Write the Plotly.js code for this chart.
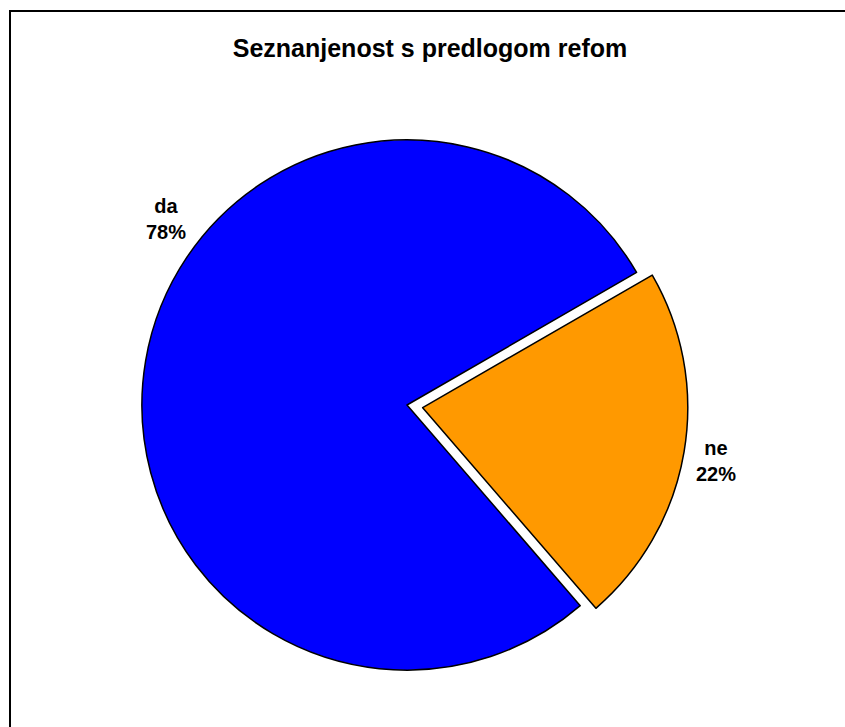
<!DOCTYPE html>
<html>
<head>
<meta charset="utf-8">
<script src="https://cdn.plot.ly/plotly-3.0.1.min.js"></script>
<style>
html, body { margin: 0; padding: 0; background: #ffffff; }
#chart { width: 845px; height: 727px; }
</style>
</head>
<body>
<div id="chart"></div>
<script>
const chartTitle = "Seznanjenost s predlogom refom";
const categories = ["ne", "da"];
const values = [22, 78];
const sliceColors = ["#FF9900", "#0000FF"];
const pulls = [0.06, 0];
// label positions (paper coords) for each category
const labelPos = { ne: [716 / 845, 1 - 461 / 727], da: [166 / 845, 1 - 219 / 727] };

const total = values.reduce((a, b) => a + b, 0);

const trace = {
  type: "pie",
  labels: categories,
  values: values,
  sort: false,
  direction: "clockwise",
  rotation: 60,
  pull: pulls,
  textinfo: "none",
  hoverinfo: "label+percent",
  marker: { colors: sliceColors, line: { color: "#000000", width: 1.5 } },
  domain: { x: [126 / 845, 688 / 845], y: [41 / 727, 603 / 727] },
  showlegend: false
};

const annotations = categories.map((c, i) => ({
  xref: "paper", yref: "paper",
  x: labelPos[c][0], y: labelPos[c][1],
  xanchor: "center", yanchor: "middle",
  showarrow: false,
  align: "center",
  text: "<b>" + c + "</b><br><b>" + Math.round(values[i] / total * 100) + "%</b>",
  font: { family: "Liberation Sans, Arial, sans-serif", size: 20, color: "#000000" }
}));

const layout = {
  width: 845, height: 727,
  margin: { l: 0, r: 0, t: 0, b: 0 },
  paper_bgcolor: "#ffffff",
  plot_bgcolor: "#ffffff",
  title: {
    text: "<b>" + chartTitle + "</b>",
    x: 430 / 845, xanchor: "center",
    y: 1 - 48 / 727, yanchor: "middle",
    xref: "container", yref: "container",
    font: { family: "Liberation Sans, Arial, sans-serif", size: 25, color: "#000000" }
  },
  annotations: annotations,
  shapes: [{
    type: "rect", xref: "paper", yref: "paper",
    x0: 10 / 845, x1: 1.05, y0: -0.05, y1: 1 - 11 / 727,
    line: { color: "#000000", width: 2 },
    fillcolor: "rgba(0,0,0,0)",
    layer: "above"
  }]
};

Plotly.newPlot("chart", [trace], layout, { displayModeBar: false, staticPlot: true });
</script>
</body>
</html>
